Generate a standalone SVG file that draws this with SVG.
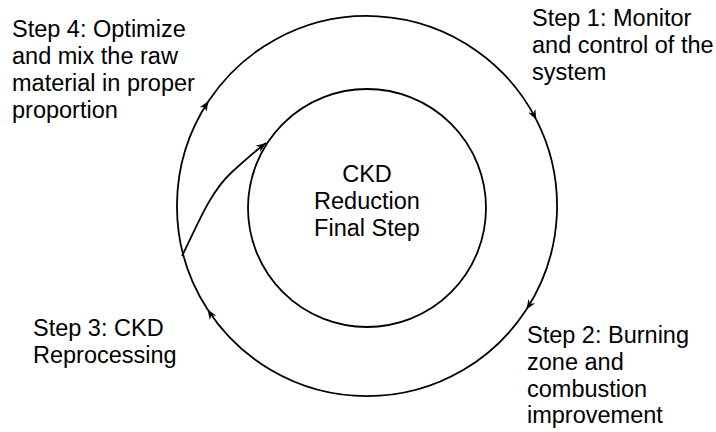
<svg xmlns="http://www.w3.org/2000/svg" width="716" height="432" viewBox="0 0 716 432">
<style>
text{font-family:"Liberation Sans",Arial,sans-serif;font-size:23.5px;fill:#000}
.ln{fill:none;stroke:#000;stroke-width:1.8}
.c{text-anchor:middle}
</style>
<defs>
<marker id="ah" markerUnits="userSpaceOnUse" markerWidth="14" markerHeight="12" viewBox="-11 -6 13 12" refX="0" refY="0" orient="auto">
<path d="M0,0 L-10,-4 L-7,0 L-10,4 Z" fill="#000"/>
</marker>
</defs>
<rect width="716" height="432" fill="#fff"/>
<g id="center-node">
<circle class="ln" cx="367" cy="208" r="119"/>
<text class="c" x="367" y="182">CKD</text>
<text class="c" x="367" y="209">Reduction</text>
<text class="c" x="367" y="236">Final Step</text>
</g>
<g id="step1"><text x="532" y="26">Step 1: Monitor</text><text x="532" y="53">and control of the</text><text x="532" y="80">system</text></g>
<g id="step2"><text x="527" y="343">Step 2: Burning</text><text x="527" y="370">zone and</text><text x="527" y="397">combustion</text><text x="527" y="423">improvement</text></g>
<g id="step3"><text x="33" y="336">Step 3: CKD</text><text x="33" y="363">Reprocessing</text></g>
<g id="step4"><text x="12" y="37">Step 4: Optimize</text><text x="12" y="64">and mix the raw</text><text x="12" y="91">material in proper</text><text x="12" y="118">proportion</text></g>
<g id="connectors">
<path class="ln" marker-end="url(#ah)" d="M208.6,101.1 A190,190 0 0 1 536.3,119.7"/>
<path class="ln" marker-end="url(#ah)" d="M536.3,119.7 A190,190 0 0 1 526.4,309.5"/>
<path class="ln" marker-end="url(#ah)" d="M526.4,309.5 A190,190 0 0 1 207.6,309.5"/>
<path class="ln" marker-end="url(#ah)" d="M207.6,309.5 A190,190 0 0 1 208.6,101.1"/>
<path class="ln" marker-end="url(#ah)" d="M182,256 C198,224 210,192 232,172 C244,161 255,151 266,143"/>
</g>
</svg>
